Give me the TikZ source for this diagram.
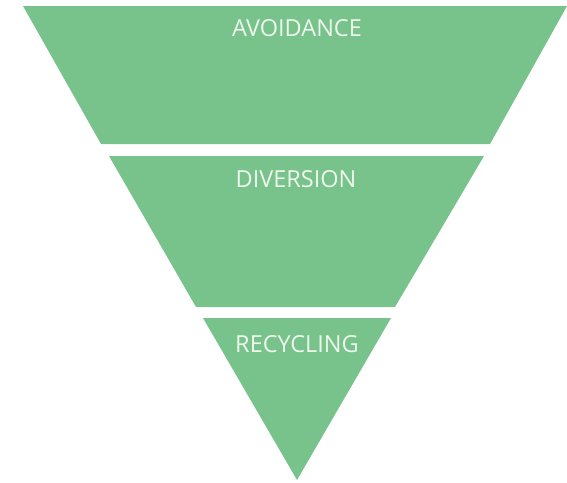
\documentclass[tikz,border=0pt]{standalone}
\usepackage{fontspec}
\setmainfont{Open Sans}
\usepackage{tikz}
\usepackage{xcolor}
\definecolor{bandgreen}{HTML}{77C38B}
\definecolor{bandtext}{HTML}{EEF8EC}
\tikzset{
    band/.style = {fill=bandgreen, draw=none},
    band-title/.style = {text=bandtext, font=\fontsize{23.5}{27}\selectfont, inner sep=0pt, anchor=center},
}

\begin{document}
\begin{tikzpicture}[x=1pt, y=-1pt]
\useasboundingbox (0,0) rectangle (567,482);
\fill[band] (23,6) -- (567,6) -- (490,144) -- (101,144) -- cycle;
\fill[band] (109,156) -- (484,156) -- (395,307) -- (196,307) -- cycle;
\fill[band] (203,318) -- (391,318) -- (297,480) -- cycle;
\node[band-title] (avoidance) at (297,28) {AVOIDANCE};
\node[band-title] (diversion) at (296,179) {DIVERSION};
\node[band-title] (recycling) at (297,344) {RECYCLING};
\end{tikzpicture}
\end{document}
